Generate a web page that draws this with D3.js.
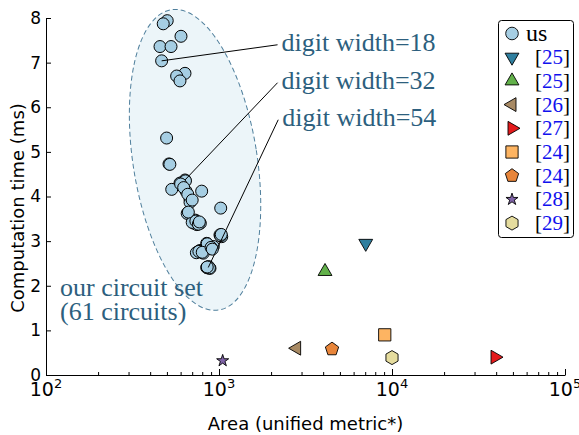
<!DOCTYPE html>
<html><head><meta charset="utf-8">
<script src="https://cdn.jsdelivr.net/npm/d3@7"></script>
<style>body{margin:0;background:#fff}svg{display:block}</style>
</head><body><svg id="c" width="579" height="435"></svg>
<script>
// ---- data ----
const usArea = [502,476,603,456,528,466,636,569,595,
 498,514,520,636,595,533,615,645,794,680,680,1023,655,730,718,780,745,700,
 1013,1037,849,860,756,776,887,927,811,740,795,867,887,849,860,
 640,600,625,660,700,665,735,760,770,1020,1030,855,765,800,900,915,870,880,855];
const usTime = [7.94,7.87,7.59,7.36,7.36,7.04,6.76,6.70,6.59,
 5.31,4.73,4.72,4.37,4.30,4.16,4.25,4.12,4.12,3.94,3.87,3.74,3.62,3.47,3.40,3.40,3.37,3.42,
 3.14,3.10,2.95,2.92,2.76,2.79,2.84,2.88,2.73,2.74,2.78,2.41,2.39,2.41,2.40,
 4.35,4.28,4.20,4.05,3.92,3.65,3.45,3.38,3.43,3.12,3.15,2.94,2.77,2.75,2.86,2.82,2.43,2.40,2.42];
const refLabels = ["25","25","26","27","24","24","28","29"];
const refShapes = ["down","up","left","right","square","pentagon","star","hexagon"];
const refColors = ["#2f7f9f","#62b14a","#a88a64","#e41a1c","#fdb462","#e8853a","#8064a8","#e5dc9e"];
const refArea = [7050,4100,2810,39400,9080,4500,1050,10000];
const refTime = [2.95,2.32,0.60,0.40,0.90,0.58,0.32,0.39];
const xTicks = [100,1000,10000,100000];
const xExp = ["2","3","4","5"];
const yTicks = [0,1,2,3,4,5,6,7,8];
const annLabels = ["digit width=18","digit width=32","digit width=54"];
const annPointArea = [466,636,867];
const annPointTime = [7.04,4.37,2.41];
const annTextArea = [2180,2180,2200];
const annTextTime = [7.40,6.55,5.72];

// ---- layout ----
const W=579,H=435, m={l:46,r:14,t:18,b:60};
const svg=d3.select("#c");
const x=d3.scaleLog().domain([100,100000]).range([m.l,W-m.r]);
const y=d3.scaleLinear().domain([0,8]).range([H-m.b,m.t]);
const serif="'Liberation Serif','DejaVu Serif',serif";
const sans="'DejaVu Sans',sans-serif";
const annColor="#2d5f7e";

// ellipse (cluster outline)
const ecx=x(727), ecy=y(4.82);
svg.append("ellipse").attr("cx",0).attr("cy",0).attr("rx",62).attr("ry",152)
  .attr("transform",`translate(${ecx},${ecy}) rotate(-9)`)
  .attr("fill","#ecf5f9").attr("stroke","#4f7f9c").attr("stroke-width",1)
  .attr("stroke-dasharray","5,3");

// shapes
function shapePath(s){
  const poly=(n,r,rot)=>{const p=d3.path();for(let i=0;i<n;i++){const a=rot+i*2*Math.PI/n;const px=r*Math.sin(a),py=-r*Math.cos(a);i?p.lineTo(px,py):p.moveTo(px,py);}p.closePath();return p.toString();};
  switch(s){
    case "circle": return d3.symbol(d3.symbolCircle,125)();
    case "down": return poly(3,8,Math.PI);
    case "up": return poly(3,8,0);
    case "left": return poly(3,8,-Math.PI/2);
    case "right": return poly(3,8,Math.PI/2);
    case "square": return d3.symbol(d3.symbolSquare,150)();
    case "pentagon": return poly(5,7,0);
    case "star": return d3.symbol(d3.symbolStar,45)();
    case "hexagon": return poly(6,7,0);
  }
}

// circles (ours)
const gp=svg.append("g");
gp.selectAll("circle").data(usArea).join("circle")
  .attr("cx",d=>x(d)).attr("cy",(d,i)=>y(usTime[i])).attr("r",6)
  .attr("fill","#a6cee3").attr("stroke","#000").attr("stroke-width",1);
// annotation lines
svg.append("g").selectAll("line").data(annLabels).join("line")
  .attr("x1",(d,i)=>x(annPointArea[i])).attr("y1",(d,i)=>y(annPointTime[i]))
  .attr("x2",(d,i)=>x(annTextArea[i])).attr("y2",(d,i)=>y(annTextTime[i]))
  .attr("stroke","#000").attr("stroke-width",1);

// reference markers
svg.append("g").selectAll("path").data(refArea).join("path")
  .attr("transform",(d,i)=>`translate(${x(d)},${y(refTime[i])})`)
  .attr("d",(d,i)=>shapePath(refShapes[i]))
  .attr("fill",(d,i)=>refColors[i]).attr("stroke","#000").attr("stroke-width",0.9);

// annotation texts
svg.append("g").selectAll("text").data(annLabels).join("text")
  .attr("x",(d,i)=>x(annTextArea[i])+4).attr("y",(d,i)=>y(annTextTime[i])+6)
  .attr("font-family",serif).attr("font-size",26).attr("fill",annColor).text(d=>d);
const ct=svg.append("text").attr("font-family",serif).attr("font-size",26).attr("fill",annColor);
ct.append("tspan").attr("x",x(120.5)).attr("y",y(1.76)).text("our circuit set");
ct.append("tspan").attr("x",x(120.5)).attr("y",y(1.24)).text("(61 circuits)");

// axes
const gy=svg.append("g").attr("transform",`translate(${m.l},0)`)
  .call(d3.axisLeft(y).tickValues(yTicks).tickSizeInner(-5).tickSizeOuter(0).tickPadding(5));
gy.selectAll("text").attr("font-family",sans).attr("font-size",17).attr("fill","#000");
const minor=[];for(let e=2;e<5;e++)for(let k=2;k<10;k++)minor.push(k*Math.pow(10,e));
svg.append("g").attr("transform",`translate(0,${H-m.b})`)
  .call(d3.axisBottom(x).tickValues(xTicks).tickFormat("").tickSizeInner(-6).tickSizeOuter(0));
svg.append("g").attr("transform",`translate(0,${H-m.b})`)
  .call(d3.axisBottom(x).tickValues(minor).tickFormat("").tickSizeInner(-3).tickSizeOuter(0))
  .select(".domain").remove();
svg.selectAll(".domain,.tick line").attr("stroke","#000");
const xl=svg.append("g").selectAll("text").data(xTicks).join("text")
  .attr("x",d=>x(d)).attr("y",H-m.b+21).attr("text-anchor","middle")
  .attr("font-family",sans).attr("font-size",19).attr("fill","#000");
xl.append("tspan").text("10");
xl.append("tspan").attr("dy",-8).attr("font-size",13).text((d,i)=>xExp[i]);

svg.append("text").attr("x",(m.l+W-m.r)/2).attr("y",430).attr("text-anchor","middle")
  .attr("font-family",sans).attr("font-size",18).text("Area (unified metric*)");
svg.append("text").attr("transform",`translate(24,208) rotate(-90)`).attr("text-anchor","middle")
  .attr("font-family",sans).attr("font-size",18).text("Computation time (ms)");

// legend
const lg=svg.append("g");
lg.append("rect").attr("x",498.5).attr("y",20.5).attr("width",75).attr("height",217).attr("rx",3)
  .attr("fill","#fff").attr("stroke","#000").attr("stroke-width",1);
const legShapes=["circle"].concat(refShapes), legColors=["#a6cee3"].concat(refColors);
const legLabels=["us"].concat(refLabels);
const li=lg.selectAll("g.li").data(legLabels).join("g").attr("class","li")
  .attr("transform",(d,i)=>`translate(512,${33.5+i*23.7})`);
li.append("path").attr("d",(d,i)=>shapePath(legShapes[i])).attr("fill",(d,i)=>legColors[i])
  .attr("stroke","#000").attr("stroke-width",0.9);
li.each(function(d,i){
  const t=d3.select(this).append("text").attr("x",i?23:14).attr("y",7)
    .attr("font-family",serif).attr("font-size",i?21:24).attr("fill","#000");
  if(i===0){t.text(d);}else{t.append("tspan").text("[");t.append("tspan").attr("fill","#1010ee").text(d);t.append("tspan").text("]");}
});
</script></body></html>
